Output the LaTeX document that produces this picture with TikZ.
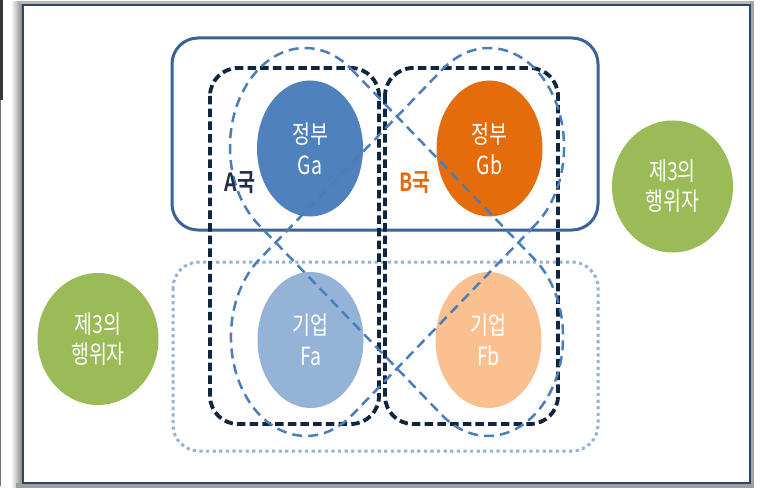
\documentclass[tikz,border=0pt]{standalone}
\usepackage{fontspec}
\usetikzlibrary{shapes.geometric}
\newfontfamily\kr[FakeStretch=0.78]{Noto Sans CJK KR}
\newfontfamily\krb[FakeStretch=0.78]{Noto Sans CJK KR Bold}
\definecolor{govline}{HTML}{3A6496}
\definecolor{dotline}{HTML}{95B3D7}
\definecolor{navy}{HTML}{10253F}
\definecolor{dashblue}{HTML}{4A7EBB}
\definecolor{gaC}{HTML}{4F81BD}
\definecolor{gbC}{HTML}{E46C0A}
\definecolor{faC}{HTML}{95B3D7}
\definecolor{fbC}{HTML}{FAC090}
\definecolor{greenC}{HTML}{9BBB59}
\definecolor{frameC}{HTML}{2C4669}
\definecolor{labA}{HTML}{1F2F48}
\begin{document}
\begin{tikzpicture}[x=1pt,y=1pt,
  actor/.style={ellipse, inner sep=0pt, minimum width=106pt, minimum height=136pt,
    text=white, align=center, font=\kr\fontsize{25}{31}\selectfont},
  third/.style={ellipse, fill=greenC, inner sep=0pt, minimum width=121pt, minimum height=132pt,
    text=white, align=center, font=\kr\fontsize{25}{30}\selectfont},
  govbox/.style={draw=govline, line width=3pt, rounded corners=26pt},
  firmbox/.style={draw=dotline, line width=3pt, dash pattern=on 3.2pt off 3.4pt, rounded corners=26pt},
  navybox/.style={draw=navy, line width=3.8pt, dash pattern=on 8.5pt off 4.2pt, rounded corners=28pt},
  bluedash/.style={draw=dashblue, line width=2.5pt, dash pattern=on 10pt off 6pt},
  country/.style={font=\krb\fontsize{25}{30}\selectfont, inner sep=0pt}]
\useasboundingbox (0,0) rectangle (762,-489);
\fill[white] (0,0) rectangle (762,-489);
% stray edge at the left
\fill[black!78] (0,0) rectangle (2.6,-100);
\fill[black!55] (0,-100) rectangle (1.2,-486);
% frame with soft shadow
\shade[left color=white, right color=black!50] (11,-2) rectangle (22.5,-487);
\fill[black!28] (20,-1.5) rectangle (753,-4.5);
\fill[black!35] (750,-1.5) rectangle (754,-488);
\fill[black!38] (16,-483) rectangle (754,-488);
\draw[frameC, line width=2.4pt, fill=white] (23,-5) rectangle (750,-483);
% third actors
\node[third] (tpR) at (672.5,-186.5) {제3의\\행위자};
\node[third] (tpL) at (98,-339) {제3의\\행위자};
% group boxes
\draw[govbox] (172,-38) rectangle (598,-230);
\draw[firmbox] (173,-262) rectangle (598,-451);
% actors
\node[actor, fill=gaC] (ga) at (310,-148.5) {정부\\Ga};
\node[actor, fill=gbC] (gb) at (489.5,-148.5) {정부\\Gb};
\node[actor, fill=faC] (fa) at (310.5,-340) {기업\\Fa};
\node[actor, fill=fbC] (fb) at (488.5,-340) {기업\\Fb};
% country boxes
\draw[navybox] (210,-68) rectangle (379,-424);
\draw[navybox] (385,-68) rectangle (558,-424);
% cross-border groupings (capsules, horizontally compressed)
\begin{scope}[xscale=0.758]
  \coordinate (xa) at (402.4,-147);
  \draw[bluedash] (xa) ++(51.8:99) -- ++(-38.2:307.2)
     arc[start angle=51.8, end angle=-128.2, radius=99]
     -- ++(141.8:307.2)
     arc[start angle=-128.2, end angle=-308.2, radius=99] -- cycle;
  \coordinate (ya) at (645.1,-147);
  \draw[bluedash] (ya) ++(308.2:99) -- ++(218.2:307.2)
     arc[start angle=308.2, end angle=128.2, radius=99]
     -- ++(38.2:307.2)
     arc[start angle=128.2, end angle=-51.8, radius=99] -- cycle;
\end{scope}
% country labels
\node[country, text=labA] (la) at (240,-183) {A국};
\node[country, text=gbC] (lb) at (415,-183) {B국};
\end{tikzpicture}
\end{document}
